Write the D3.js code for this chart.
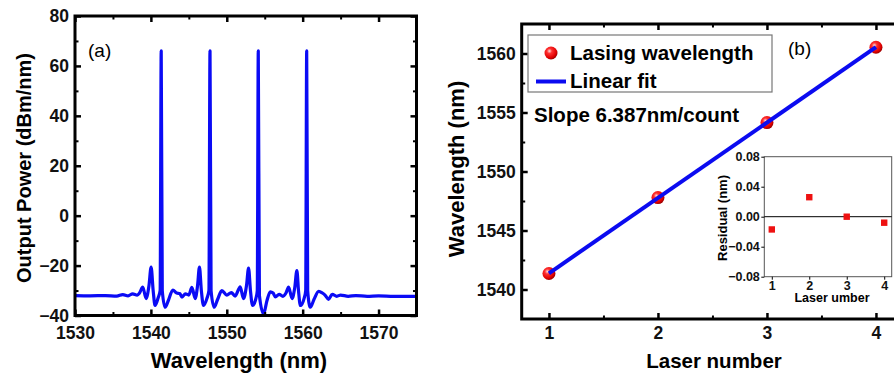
<!DOCTYPE html>
<html>
<head>
<meta charset="utf-8">
<script src="https://cdn.jsdelivr.net/npm/d3@7"></script>
<style>
  html, body { margin: 0; padding: 0; background: #fff; }
  svg { display: block; font-family: "Liberation Sans", Arial, sans-serif; }
  .tick text { font-weight: bold; fill: #111; }
</style>
</head>
<body>
<svg id="fig" width="894" height="375"></svg>
<script>
// ---- (a) emission spectrum ----
const specWl = [1530, 1532, 1534, 1535.5, 1536.3, 1537, 1537.6, 1538.2, 1538.5, 1538.93, 1539.37, 1539.75,
  1540.03, 1540.3, 1540.55, 1540.95, 1541.22, 1541.36, 1541.5, 1541.88, 1542.3, 1542.9, 1543.4, 1543.8,
  1544.1, 1544.55, 1545.0, 1545.4, 1545.84, 1546.15, 1546.4, 1546.65, 1546.93, 1547.4, 1547.65, 1547.79,
  1547.93, 1548.34, 1548.8, 1549.35, 1550.0, 1550.6, 1551.1, 1551.77, 1552.2, 1552.6, 1552.87, 1553.12,
  1553.4, 1553.85, 1554.02, 1554.15, 1554.3, 1554.85, 1555.3, 1555.73, 1556.1, 1556.4, 1556.9, 1557.4,
  1557.8, 1558.15, 1558.6, 1558.95, 1559.24, 1559.45, 1559.7, 1560.2, 1560.4, 1560.53, 1560.66, 1561.0,
  1561.5, 1562.1, 1562.6, 1563.0, 1563.4, 1563.9, 1564.5, 1565.0, 1566, 1567, 1568.5, 1570, 1572, 1575];
const specPow = [-32, -32.1, -32, -32.2, -31.6, -32.1, -31.3, -31.8, -31, -28.6, -33.2, -28,
  -20.6, -30, -36, -33, -30, 66, -30, -36.7, -34, -29.8, -31, -31.2,
  -32.6, -31.3, -31.8, -28.7, -33.2, -28, -20.6, -30, -36, -33, -30, 66,
  -30, -36.7, -33.5, -30, -31.8, -30.8, -32.2, -28.5, -33.2, -28, -21, -30,
  -36, -33, -30, 66, -32, -39.3, -34, -30.5, -31, -32.5, -31.5, -32.3,
  -31, -28.6, -33.2, -29, -22, -30, -36, -33, -30, 66, -30, -36.7,
  -33.5, -30.3, -31, -32, -33.5, -31.5, -32.3, -31.8, -32.3, -32, -32.3, -32.1, -32.3, -32.3];
const specXTicks = [1530, 1540, 1550, 1560, 1570];
const specYTicks = [-40, -20, 0, 20, 40, 60, 80];

// ---- (b) lasing wavelengths and linear fit ----
const laserNumber = [1, 2, 3, 4];
const lasingWl = [1541.358, 1547.788, 1554.149, 1560.528];
const fitSlope = 6.387;       // nm per count
const fitIntercept = 1534.988; // nm at count 0
const wlTicks = [1540, 1545, 1550, 1555, 1560];
const residual = [-0.017, 0.026, 0.000, -0.008];
const residTicks = [-0.08, -0.04, 0.00, 0.04, 0.08];

const svg = d3.select("#fig");
const defs = svg.append("defs");
const grad = defs.append("radialGradient").attr("id", "ball")
  .attr("cx", "0.38").attr("cy", "0.35").attr("r", "0.65");
grad.append("stop").attr("offset", "0").attr("stop-color", "#ffe0e0");
grad.append("stop").attr("offset", "0.3").attr("stop-color", "#ff3030");
grad.append("stop").attr("offset", "0.8").attr("stop-color", "#e00000");
grad.append("stop").attr("offset", "1").attr("stop-color", "#a00000");

function frameAxes(g, x, y, xMajor, xMinor, yMajor, yMinor, fmt, fs, xPad) {
  const [x0, x1] = x.range(), [y0, y1] = y.range();
  const strip = a => a.select(".domain").remove();
  const side = (axis, tx, ty, vals, size, labelled, pad) => {
    const ax = axis.tickValues(vals).tickSize(size);
    if (labelled) ax.tickPadding(pad).tickFormat(fmt); else ax.tickFormat("");
    g.append("g").attr("transform", `translate(${tx},${ty})`).call(ax).call(strip)
      .call(a => a.selectAll("text").style("font-size", fs + "px"))
      .call(a => a.selectAll("line").attr("stroke-width", size < -4 ? 2.5 : 2));
  };
  side(d3.axisBottom(x), 0, y0, xMajor, -6, true, xPad);
  side(d3.axisBottom(x), 0, y0, xMinor, -3.5, false);
  side(d3.axisTop(x), 0, y1, xMajor, -6, false);
  side(d3.axisTop(x), 0, y1, xMinor, -3.5, false);
  side(d3.axisLeft(y), x0, 0, yMajor, -6, true, 6);
  side(d3.axisLeft(y), x0, 0, yMinor, -3.5, false);
  side(d3.axisRight(y), x1, 0, yMajor, -6, false);
  side(d3.axisRight(y), x1, 0, yMinor, -3.5, false);
  g.append("rect").attr("x", x0).attr("y", y1).attr("width", x1 - x0).attr("height", y0 - y1)
    .attr("fill", "none").attr("stroke", "#000").attr("stroke-width", 3);
}

// ===== Panel (a) =====
const xA = d3.scaleLinear().domain([1530, 1575]).range([75, 416.5]);
const yA = d3.scaleLinear().domain([-40, 80]).range([315.5, 16]);
const gA = svg.append("g");

const specData = specWl.map((w, i) => [w, specPow[i]]);
gA.append("path").datum(specData)
  .attr("fill", "none").attr("stroke", "#0b0bf5").attr("stroke-width", 3.2)
  .attr("stroke-linejoin", "round")
  .attr("d", d3.line().x(d => xA(d[0])).y(d => yA(d[1])).curve(d3.curveMonotoneX));

const minorX = d3.range(1535, 1575, 10);
const minorY = d3.range(-30, 80, 20);
frameAxes(gA, xA, yA, specXTicks, minorX, specYTicks, minorY, d3.format("d"), 17.5, 11);

gA.append("text").attr("x", 88).attr("y", 57).style("font-size", "19px").text("(a)");
gA.append("text").attr("x", 239).attr("y", 368).attr("text-anchor", "middle")
  .style("font-size", "22px").style("font-weight", "bold").text("Wavelength (nm)");
gA.append("text").attr("transform", "translate(31,168) rotate(-90)").attr("text-anchor", "middle")
  .style("font-size", "20px").style("font-weight", "bold").text("Output Power (dBm/nm)");

// ===== Panel (b) =====
const xB = d3.scaleLinear().domain([0.75, 4.25]).range([521.7, 903.2]);
const yB = d3.scaleLinear().domain([1537.5, 1562.5]).range([319, 24]);
const gB = svg.append("g");

frameAxes(gB, xB, yB, laserNumber, [1.5, 2.5, 3.5], wlTicks, [1542.5, 1547.5, 1552.5, 1557.5],
  d3.format("d"), 17.5, 8);

// lasing wavelength markers
gB.append("g").selectAll("circle").data(laserNumber).join("circle")
  .attr("cx", d => xB(d)).attr("cy", (d, i) => yB(lasingWl[i])).attr("r", 6.5)
  .attr("fill", "url(#ball)");

// linear fit
gB.append("line")
  .attr("x1", xB(laserNumber[0])).attr("y1", yB(fitIntercept + fitSlope * laserNumber[0]))
  .attr("x2", xB(laserNumber[3])).attr("y2", yB(fitIntercept + fitSlope * laserNumber[3]))
  .attr("stroke", "#0b0bf0").attr("stroke-width", 4);

// legend
const lg = gB.append("g");
lg.append("rect").attr("x", 528).attr("y", 35).attr("width", 244).attr("height", 57)
  .attr("fill", "#fff").attr("stroke", "#777").attr("stroke-width", 1.2);
lg.append("circle").attr("cx", 551).attr("cy", 53).attr("r", 6.5).attr("fill", "url(#ball)");
lg.append("text").attr("x", 570).attr("y", 60).style("font-size", "20.5px").style("font-weight", "bold")
  .text("Lasing wavelength");
lg.append("line").attr("x1", 536).attr("x2", 566).attr("y1", 81.5).attr("y2", 81.5)
  .attr("stroke", "#0b0bf0").attr("stroke-width", 4);
lg.append("text").attr("x", 570).attr("y", 87.5).style("font-size", "20.5px").style("font-weight", "bold")
  .text("Linear fit");

gB.append("text").attr("x", 534).attr("y", 122).style("font-size", "20.5px").style("font-weight", "bold")
  .text(`Slope ${fitSlope}nm/count`);
gB.append("text").attr("x", 788).attr("y", 55).style("font-size", "19px").text("(b)");

gB.append("text").attr("x", 714).attr("y", 368).attr("text-anchor", "middle")
  .style("font-size", "20.5px").style("font-weight", "bold").text("Laser number");
gB.append("text").attr("transform", "translate(464,169) rotate(-90)").attr("text-anchor", "middle")
  .style("font-size", "22px").style("font-weight", "bold").text("Wavelength (nm)");

// ===== Residual inset =====
const xI = d3.scaleLinear().domain([0.8, 4.2]).range([764.3, 891.7]);
const yI = d3.scaleLinear().domain([-0.08, 0.08]).range([276.7, 156.7]);
const gI = svg.append("g");
gI.append("rect").attr("x", 764.3).attr("y", 156.7).attr("width", 127.4).attr("height", 120)
  .attr("fill", "#fff").attr("stroke", "#555").attr("stroke-width", 1);
gI.append("g").attr("transform", "translate(764.3,0)")
  .call(d3.axisLeft(yI).tickValues(residTicks).tickSize(3).tickPadding(1.5).tickFormat(d3.format(".2f")))
  .call(a => a.select(".domain").remove())
  .call(a => a.selectAll("text").style("font-size", "12.5px"));
gI.append("g").attr("transform", "translate(0,276.7)")
  .call(d3.axisBottom(xI).tickValues(laserNumber).tickSize(3).tickPadding(1).tickFormat(d3.format("d")))
  .call(a => a.select(".domain").remove())
  .call(a => a.selectAll("text").style("font-size", "12.5px"));
gI.append("line").attr("x1", 764.3).attr("x2", 891.7).attr("y1", yI(0)).attr("y2", yI(0))
  .attr("stroke", "#000").attr("stroke-width", 1);
gI.append("g").selectAll("rect").data(laserNumber).join("rect")
  .attr("x", d => xI(d) - 3.2).attr("y", (d, i) => yI(residual[i]) - 3.2)
  .attr("width", 6.4).attr("height", 6.4).attr("fill", "#ee1111");
gI.append("text").attr("x", 832).attr("y", 302).attr("text-anchor", "middle")
  .style("font-size", "12.5px").style("font-weight", "bold").text("Laser umber");
gI.append("text").attr("transform", "translate(727,218) rotate(-90)").attr("text-anchor", "middle")
  .style("font-size", "13px").style("font-weight", "bold").text("Residual (nm)");
</script>
</body>
</html>
